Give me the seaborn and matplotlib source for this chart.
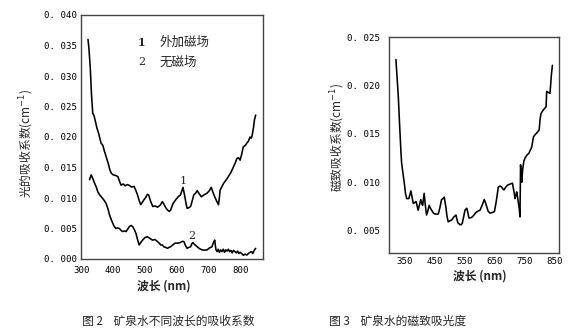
import numpy as np
import pandas as pd
import matplotlib
matplotlib.use("Agg")
import matplotlib.pyplot as plt
from matplotlib.ticker import MultipleLocator, FuncFormatter, FixedLocator
import seaborn as sns

# ---------------- data ----------------
wl_field = [321, 324, 328, 332, 336, 340, 345, 349, 355, 362, 368, 372, 378, 385, 390, 394,
            400, 408, 415, 420, 425, 432, 438, 445, 450, 458, 466, 472, 477, 482, 487, 492,
            497, 503, 508, 512, 518, 525, 532, 540, 548, 555, 560, 566, 572, 577, 581, 588,
            597, 605, 612, 617, 620, 623, 626, 630, 633, 638, 644, 649, 654, 660, 665, 671,
            678, 686, 696, 703, 709, 714, 720, 726, 732, 735, 737, 742, 748, 755, 763, 771,
            779, 785, 790, 795, 800, 805, 810, 816, 821, 826, 831, 835, 838, 842, 845, 849]
abs_field = [36.0, 34.5, 31.5, 27.0, 23.9, 23.5, 22.4, 21.5, 20.5, 19.0, 18.6, 17.8, 16.8, 15.6, 14.6, 14.1,
             13.8, 13.7, 13.5, 12.8, 12.1, 12.3, 12.0, 12.2, 12.1, 11.8, 11.9, 11.2, 10.5, 9.6, 8.9, 9.3,
             9.7, 10.1, 10.6, 10.5, 9.5, 8.6, 8.7, 8.5, 8.8, 9.4, 9.0, 8.4, 8.0, 7.8, 8.0, 9.0,
             9.7, 10.2, 10.5, 11.2, 11.75, 11.0, 10.2, 9.0, 8.3, 8.4, 8.6, 9.5, 10.5, 10.8, 11.2, 10.7,
             10.2, 10.5, 10.8, 11.2, 11.75, 11.0, 10.2, 9.5, 8.9, 10.2, 11.3, 11.8, 12.4, 12.9, 13.5, 14.2,
             15.1, 15.8, 16.5, 16.6, 16.2, 17.2, 18.4, 18.6, 19.0, 19.3, 20.0, 19.8, 20.3, 21.5, 22.8, 23.6]

wl_nofield = [326, 331, 336, 342, 347, 352, 358, 366, 372, 378, 384, 389, 394, 399, 404, 409,
              414, 420, 425, 430, 436, 441, 446, 451, 457, 462, 467, 472, 477, 482, 487, 493,
              500, 508, 515, 524, 532, 540, 545, 550, 555, 560, 566, 571, 576, 581, 588, 595,
              604, 612, 618, 623, 628, 633, 638, 644, 648, 651, 656, 665, 672, 680, 688, 696,
              703, 711, 717, 720, 722, 724, 728, 731, 735, 739, 743, 747, 751, 755, 759, 763,
              767, 771, 775, 779, 784, 788, 792, 796, 800, 805, 810, 815, 821, 826, 831, 836,
              840, 844, 849]
abs_nofield = [13.0, 13.8, 13.2, 12.4, 11.8, 11.0, 10.5, 10.0, 9.6, 9.1, 8.2, 7.2, 6.5, 5.85, 5.3, 5.0,
               5.1, 5.0, 4.7, 4.5, 4.6, 4.5, 4.9, 5.3, 5.5, 5.3, 4.8, 4.2, 3.2, 2.3, 2.7, 3.1,
               3.5, 3.65, 3.4, 3.1, 3.2, 2.85, 2.6, 2.3, 2.3, 2.0, 1.9, 1.75, 1.9, 2.0, 2.3, 2.6,
               2.6, 2.7, 2.9, 2.85, 2.2, 1.75, 1.9, 2.0, 2.5, 2.7, 2.4, 2.0, 1.7, 1.5, 1.45, 1.5,
               1.8, 2.0, 2.8, 3.1, 2.2, 1.5, 1.2, 1.6, 1.1, 1.5, 1.2, 1.6, 1.1, 1.5, 1.3, 1.6,
               1.2, 1.4, 1.0, 1.4, 1.2, 1.0, 1.3, 0.9, 1.1, 0.9, 0.6, 0.8, 0.65, 0.9, 1.1, 1.2,
               0.9, 1.4, 1.75]

wl_mag = [320, 324, 328, 333, 337, 339, 344, 348, 352, 356, 363, 370, 374, 378, 383, 387,
          391, 394, 398, 403, 406, 409, 414, 418, 422, 426, 431, 435, 439, 445, 450, 455,
          461, 466, 472, 477, 481, 486, 490, 494, 500, 506, 513, 520, 523, 526, 530, 533,
          537, 541, 546, 550, 556, 560, 563, 568, 574, 580, 586, 593, 600, 607, 614, 618,
          622, 627, 633, 640, 648, 654, 661, 667, 672, 676, 680, 686, 692, 700, 708, 712,
          717, 720, 722, 725, 728, 731, 733, 734, 735, 737, 739, 742, 746, 750, 756, 763,
          767, 772, 778, 783, 789, 797, 800, 803, 811, 820, 822, 827, 833, 835, 837, 841]
abs_mag = [22.7, 20.8, 18.85, 15.5, 13.0, 12.0, 10.8, 9.9, 8.8, 8.3, 8.3, 9.1, 8.4, 7.8, 7.9, 8.0,
           7.5, 7.1, 7.6, 8.2, 7.8, 7.6, 8.85, 7.6, 6.6, 7.0, 7.6, 7.3, 7.1, 6.8, 6.7, 6.7,
           6.7, 7.3, 8.2, 8.3, 8.45, 7.5, 6.5, 5.9, 6.0, 6.1, 6.4, 6.6, 6.2, 5.8, 5.7, 5.6,
           5.6, 5.75, 6.5, 7.1, 7.3, 6.8, 6.3, 6.3, 6.4, 6.6, 6.85, 7.0, 7.1, 7.6, 8.2, 7.9,
           7.5, 7.0, 6.8, 6.85, 6.95, 8.0, 9.5, 9.6, 9.5, 9.3, 9.2, 9.5, 9.7, 9.8, 9.9, 9.2,
           8.3, 8.7, 9.0, 8.5, 7.8, 7.2, 6.4, 9.0, 11.8, 11.0, 10.0, 11.3, 12.2, 12.5, 12.8, 13.0,
           13.3, 13.6, 14.7, 14.9, 15.1, 15.4, 16.5, 17.1, 17.5, 17.8, 19.4, 19.3, 19.2, 20.0, 20.9, 22.1]

left_xticks = [300, 400, 500, 600, 700, 800]
right_xticks = [350, 450, 550, 650, 750, 850]
legend_items = ["外加磁场", "无磁场"]
curve_labels = ["1", "2"]
left_ylabel = "光的吸收系数(cm$^{-1}$)"
right_ylabel = "磁致吸收系数(cm$^{-1}$)"
xlabel = "波长 (nm)"
caption_left = "图 2    矿泉水不同波长的吸收系数"
caption_right = "图 3    矿泉水的磁致吸光度"

df1 = pd.DataFrame({"wl": wl_field, "a": np.array(abs_field) * 1e-3})
df2 = pd.DataFrame({"wl": wl_nofield, "a": np.array(abs_nofield) * 1e-3})
df3 = pd.DataFrame({"wl": wl_mag, "a": np.array(abs_mag) * 1e-3})

# ---------------- style ----------------
sns.set_style("white")
CJK = ["Noto Sans CJK SC", "DejaVu Sans"]
plt.rcParams["font.family"] = CJK
plt.rcParams["axes.unicode_minus"] = False

W, H = 582, 332
fig = plt.figure(figsize=(W / 100, H / 100), dpi=100)

def frac(x0, y0, x1, y1):
    return [x0 / W, 1 - y1 / H, (x1 - x0) / W, (y1 - y0) / H]

axL = fig.add_axes(frac(81, 15, 263, 259))
axR = fig.add_axes(frac(389.3, 37.3, 559, 252.7))

lw = 1.15
sns.lineplot(data=df1, x="wl", y="a", ax=axL, color="black", lw=lw, sort=False)
sns.lineplot(data=df2, x="wl", y="a", ax=axL, color="black", lw=lw, sort=False)
sns.lineplot(data=df3, x="wl", y="a", ax=axR, color="black", lw=lw, sort=False)

fmt = FuncFormatter(lambda v, p: ("%.3f" % v).replace(".", ". "))

for ax in (axL, axR):
    ax.set_xlabel("")
    ax.set_ylabel("")
    for s in ax.spines.values():
        s.set_color("#444444")
        s.set_linewidth(1.0)
        s.set_visible(True)
    ax.yaxis.set_major_formatter(fmt)

# left axes
axL.set_xlim(299, 872)
axL.set_ylim(0, 0.040)
axL.xaxis.set_major_locator(FixedLocator(left_xticks))
axL.xaxis.set_minor_locator(FixedLocator([350, 450, 550, 650, 750, 850]))
axL.yaxis.set_major_locator(MultipleLocator(0.005))
axL.yaxis.set_minor_locator(MultipleLocator(0.0025))
axL.tick_params(which="both", direction="in", colors="#333333", labelcolor="black")
axL.tick_params(which="major", length=3, width=0.8, labelsize=6.6)
axL.tick_params(which="minor", length=2, width=0.6)
axL.tick_params(axis="x", pad=5)
axL.tick_params(axis="y", pad=3)

# right axes
axR.set_xlim(298, 863)
axR.set_ylim(0.0027, 0.025)
axR.xaxis.set_major_locator(FixedLocator(right_xticks))
axR.xaxis.set_minor_locator(FixedLocator([400, 500, 600, 700, 800]))
axR.yaxis.set_major_locator(MultipleLocator(0.005))
axR.yaxis.set_minor_locator(MultipleLocator(0.0025))
axR.tick_params(axis="x", which="both", direction="in", colors="#333333", labelcolor="black")
axR.tick_params(axis="x", which="major", length=3, width=0.8, labelsize=6.6, pad=3)
axR.tick_params(axis="x", which="minor", length=2, width=0.6)
axR.tick_params(axis="y", which="both", direction="out", colors="#333333", labelcolor="black")
axR.tick_params(axis="y", which="major", length=5, width=0.8, labelsize=6.6, pad=2)
axR.tick_params(axis="y", which="minor", length=2.5, width=0.6)

for ax in (axL, axR):
    for lab in ax.get_xticklabels() + ax.get_yticklabels():
        lab.set_fontfamily("DejaVu Sans Mono")

# legend-like text and curve labels
axL.text(491, 0.0355, curve_labels[0], ha="center", va="center", fontsize=8,
         fontweight="bold", family=["DejaVu Serif"])
axL.text(491, 0.0323, curve_labels[1], ha="center", va="center", fontsize=8,
         family=["DejaVu Serif"])
axL.text(546, 0.0355, legend_items[0], ha="left", va="center", fontsize=9, family=CJK)
axL.text(546, 0.0323, legend_items[1], ha="left", va="center", fontsize=9, family=CJK)
axL.text(621, 0.0128, curve_labels[0], ha="center", va="center", fontsize=8, family=["DejaVu Serif"])
axL.text(649, 0.0037, curve_labels[1], ha="center", va="center", fontsize=8, family=["DejaVu Serif"])

def ftext(x, y, s, **kw):
    fig.text(x / W, 1 - y / H, s, **kw)

ftext(27, 143, left_ylabel, rotation=90, ha="center", va="center", fontsize=8.5, family=CJK)
ftext(338, 137, right_ylabel, rotation=90, ha="center", va="center", fontsize=8.5, family=CJK)
ftext(164, 286, xlabel, ha="center", va="center", fontsize=8.5, fontweight="bold", family=CJK)
ftext(480, 276, xlabel, ha="center", va="center", fontsize=8.5, fontweight="bold", family=CJK)
ftext(168, 321, caption_left, ha="center", va="center", fontsize=8.5, family=CJK)
ftext(329, 321, caption_right, ha="left", va="center", fontsize=8.5, family=CJK)

fig.savefig("out.png", dpi=100, facecolor="white")
